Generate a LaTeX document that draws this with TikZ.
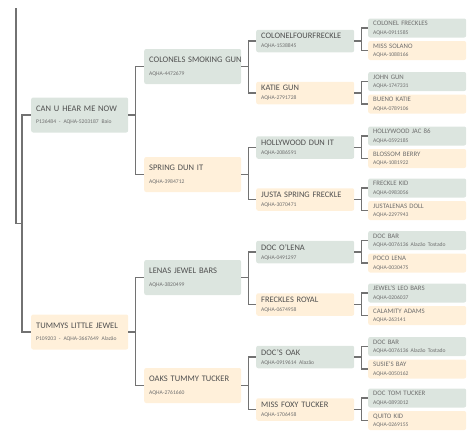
\documentclass[tikz,border=0pt]{standalone}
\usepackage{fontspec}
\setmainfont{Carlito}
\usepackage{tikz}

\definecolor{sirebox}{HTML}{DCE5DF}
\definecolor{dambox}{HTML}{FFF0DA}
\definecolor{linegray}{HTML}{727272}
\definecolor{namegray}{HTML}{4F4F4F}
\definecolor{idgray}{HTML}{6E6E6E}

\newcommand{\regno}[1]{{\color{idgray}\fontsize{5.6}{7}\selectfont #1}}
\newcommand{\pedname}[2]{\mbox{#1}\\\regno{#2}}

\begin{document}
\begin{tikzpicture}[x=1pt, y=-1pt,
  horse/.style={anchor=west, rounded corners=2pt, align=left, inner xsep=5pt, inner ysep=0pt, text=namegray},
  sire/.style={horse, fill=sirebox},
  dam/.style={horse, fill=dambox},
  genone/.style={text width=87pt, minimum height=35pt, font=\fontsize{8.5}{12.5}\selectfont},
  gentwo/.style={text width=87pt, minimum height=35pt, font=\fontsize{8.5}{12.5}\selectfont},
  genthree/.style={text width=88pt, minimum height=22.5pt, font=\fontsize{8.4}{9}\selectfont},
  genfour/.style={text width=88pt, minimum height=19pt, font=\fontsize{6.8}{8.6}\selectfont, text=idgray},
  pedline/.style={draw=linegray, line width=1.1pt}]
  \useasboundingbox (0,0) rectangle (475,440);

  % first generation
  \node[sire, genone] (s) at (31,115) {\pedname{CAN U HEAR ME NOW}{P136484 - AQHA-5203187 Baio}};
  \node[dam, genone] (d) at (31,332) {\pedname{TUMMYS LITTLE JEWEL}{P109203 - AQHA-3667649 Alazão}};

  % second generation
  \node[sire, gentwo] (ss) at (144,66.5) {\pedname{COLONELS SMOKING GUN}{AQHA-4472679}};
  \node[dam, gentwo] (sd) at (144,174.5) {\pedname{SPRING DUN IT}{AQHA-3984712}};
  \node[sire, gentwo] (ds) at (144,277.5) {\pedname{LENAS JEWEL BARS}{AQHA-3820499}};
  \node[dam, gentwo] (dd) at (144,385.5) {\pedname{OAKS TUMMY TUCKER}{AQHA-2761660}};

  % third generation
  \node[sire, genthree] (sss) at (256,41) {\pedname{COLONELFOURFRECKLE}{AQHA-1538845}};
  \node[dam, genthree] (ssd) at (256,93) {\pedname{KATIE GUN}{AQHA-2791728}};
  \node[sire, genthree] (sds) at (256,147.5) {\pedname{HOLLYWOOD DUN IT}{AQHA-2086591}};
  \node[dam, genthree] (sdd) at (256,199.5) {\pedname{JUSTA SPRING FRECKLE}{AQHA-3070471}};
  \node[sire, genthree] (dss) at (256,252) {\pedname{DOC O'LENA}{AQHA-0491297}};
  \node[dam, genthree] (dsd) at (256,304.5) {\pedname{FRECKLES ROYAL}{AQHA-0674958}};
  \node[sire, genthree] (dds) at (256,357) {\pedname{DOC'S OAK}{AQHA-0919614 Alazão}};
  \node[dam, genthree] (ddd) at (256,409.5) {\pedname{MISS FOXY TUCKER}{AQHA-1706458}};

  % fourth generation
  \node[sire, genfour] (ssss) at (368,28) {\pedname{COLONEL FRECKLES}{AQHA-0911585}};
  \node[dam, genfour] (sssd) at (368,50.5) {\pedname{MISS SOLANO}{AQHA-1088166}};
  \node[sire, genfour] (ssds) at (368,81.5) {\pedname{JOHN GUN}{AQHA-1747331}};
  \node[dam, genfour] (ssdd) at (368,104) {\pedname{BUENO KATIE}{AQHA-0789106}};
  \node[sire, genfour] (sdss) at (368,136) {\pedname{HOLLYWOOD JAC 86}{AQHA-0592185}};
  \node[dam, genfour] (sdsd) at (368,158.5) {\pedname{BLOSSOM BERRY}{AQHA-1081922}};
  \node[sire, genfour] (sdds) at (368,188) {\pedname{FRECKLE KID}{AQHA-0983056}};
  \node[dam, genfour] (sddd) at (368,210.5) {\pedname{JUSTALENAS DOLL}{AQHA-2297943}};
  \node[sire, genfour] (dsss) at (368,240.5) {\pedname{DOC BAR}{AQHA-0076136 Alazão Tostado}};
  \node[dam, genfour] (dssd) at (368,263) {\pedname{POCO LENA}{AQHA-0030475}};
  \node[sire, genfour] (dsds) at (368,293) {\pedname{JEWEL'S LEO BARS}{AQHA-0206037}};
  \node[dam, genfour] (dsdd) at (368,315.5) {\pedname{CALAMITY ADAMS}{AQHA-263141}};
  \node[sire, genfour] (ddss) at (368,346.5) {\pedname{DOC BAR}{AQHA-0076136 Alazão Tostado}};
  \node[dam, genfour] (ddsd) at (368,369) {\pedname{SUSIE'S BAY}{AQHA-0050162}};
  \node[sire, genfour] (ddds) at (368,398) {\pedname{DOC TOM TUCKER}{AQHA-0893012}};
  \node[dam, genfour] (dddd) at (368,420.5) {\pedname{QUITO KID}{AQHA-0269155}};

  % brackets
  \coordinate (top) at (16,8);
  \coordinate (root) at (16,223.5);
  \draw[pedline] (top) -- (root) -- ++(6,0) |- (s.west);
  \draw[pedline] (root) -- ++(6,0) |- (d.west);
  \foreach \n in {s,d,ss,sd,ds,dd,sss,ssd,sds,sdd,dss,dsd,dds,ddd} {
    \draw[pedline] (\n.east) -- ++(7,0) |- (\n s.west);
    \draw[pedline] (\n.east) -- ++(7,0) |- (\n d.west);
  }
\end{tikzpicture}
\end{document}
